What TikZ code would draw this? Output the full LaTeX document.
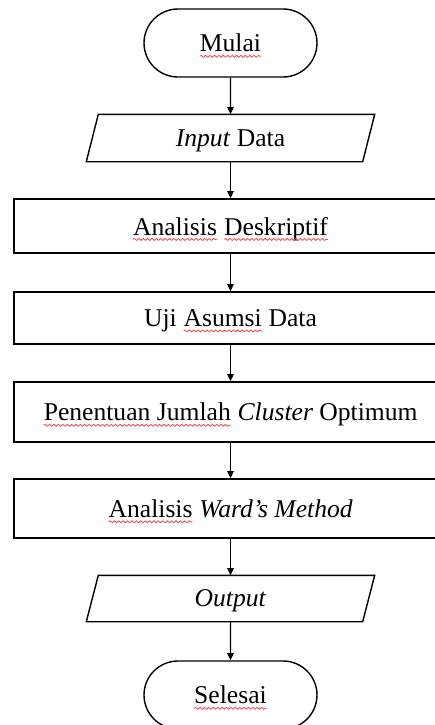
\documentclass[tikz,border=0pt]{standalone}
\usepackage{fontspec}
\setmainfont{Liberation Serif}
\usetikzlibrary{shapes.misc,arrows.meta,decorations.pathmorphing}
\definecolor{spellred}{RGB}{240,80,80}
% red wavy spell-check underline under a word
\newcommand\spellmark[1]{\tikz[baseline=(sw.base)]{%
  \node[draw=none, fill=none, rectangle, inner sep=0pt, outer sep=0pt,
        minimum width=0pt, minimum height=0pt, text depth=] (sw) {#1};
  \draw[spellred, line width=0.4pt, decorate,
        decoration={snake, amplitude=0.5pt, segment length=2.2pt}]
    ([yshift=-2.2pt]sw.base west) -- ([yshift=-2.2pt]sw.base east);}}
\tikzset{
  base/.style={inner sep=0pt, font=\fontsize{12.8}{15}\selectfont, line width=0.7pt,
    text depth=0pt},
  terminal/.style={base, draw, rounded rectangle, minimum width=86.5pt, minimum height=34pt},
  process/.style={base, draw, rectangle, minimum width=216.5pt},
  io/.style={base, rectangle, minimum width=137.5pt},
  flow/.style={line width=0.7pt, -{Triangle[width=3.2pt,length=3.6pt]}}
}
\begin{document}
\begin{tikzpicture}[x=0.5pt, y=-0.5pt]
  \clip (0,0) rectangle (435,725);
  \fill[white] (0,0) rectangle (435,725);

  \node[terminal] (mulai) at (230.5,43) {\spellmark{Mulai}};
  \node[io, minimum height=23pt] (input) at (230.5,138) {\textit{Input} Data};
  \node[process, minimum height=27pt] (desk) at (230.5,226) {\spellmark{Analisis} \spellmark{Deskriptif}};
  \node[process, minimum height=26pt] (uji) at (230.5,318) {Uji \spellmark{Asumsi} Data};
  \node[process, minimum height=30pt] (klas) at (230.5,412) {\spellmark{Penentuan Jumlah} \textit{Cluster} Optimum};
  \node[process, minimum height=29.5pt] (ward) at (230.5,508.5) {\spellmark{Analisis} \textit{Ward’s Method}};
  \node[io, minimum height=22.5pt] (output) at (230.5,598.5) {\textit{Output}};
  \node[terminal] (selesai) at (230.5,695) {\spellmark{Selesai}};

  % slanted input/output outlines
  \foreach \n in {input,output}
    \draw[line width=0.7pt]
      ([xshift=3pt]\n.north west) -- ([xshift=3pt]\n.north east) --
      ([xshift=-3pt]\n.south east) -- ([xshift=-3pt]\n.south west) -- cycle;

  \draw[flow] (mulai) -- (input);
  \draw[flow] (input) -- (desk);
  \draw[flow] (desk) -- (uji);
  \draw[flow] (uji) -- (klas);
  \draw[flow] (klas) -- (ward);
  \draw[flow] (ward) -- (output);
  \draw[flow] (output) -- (selesai);
\end{tikzpicture}
\end{document}
